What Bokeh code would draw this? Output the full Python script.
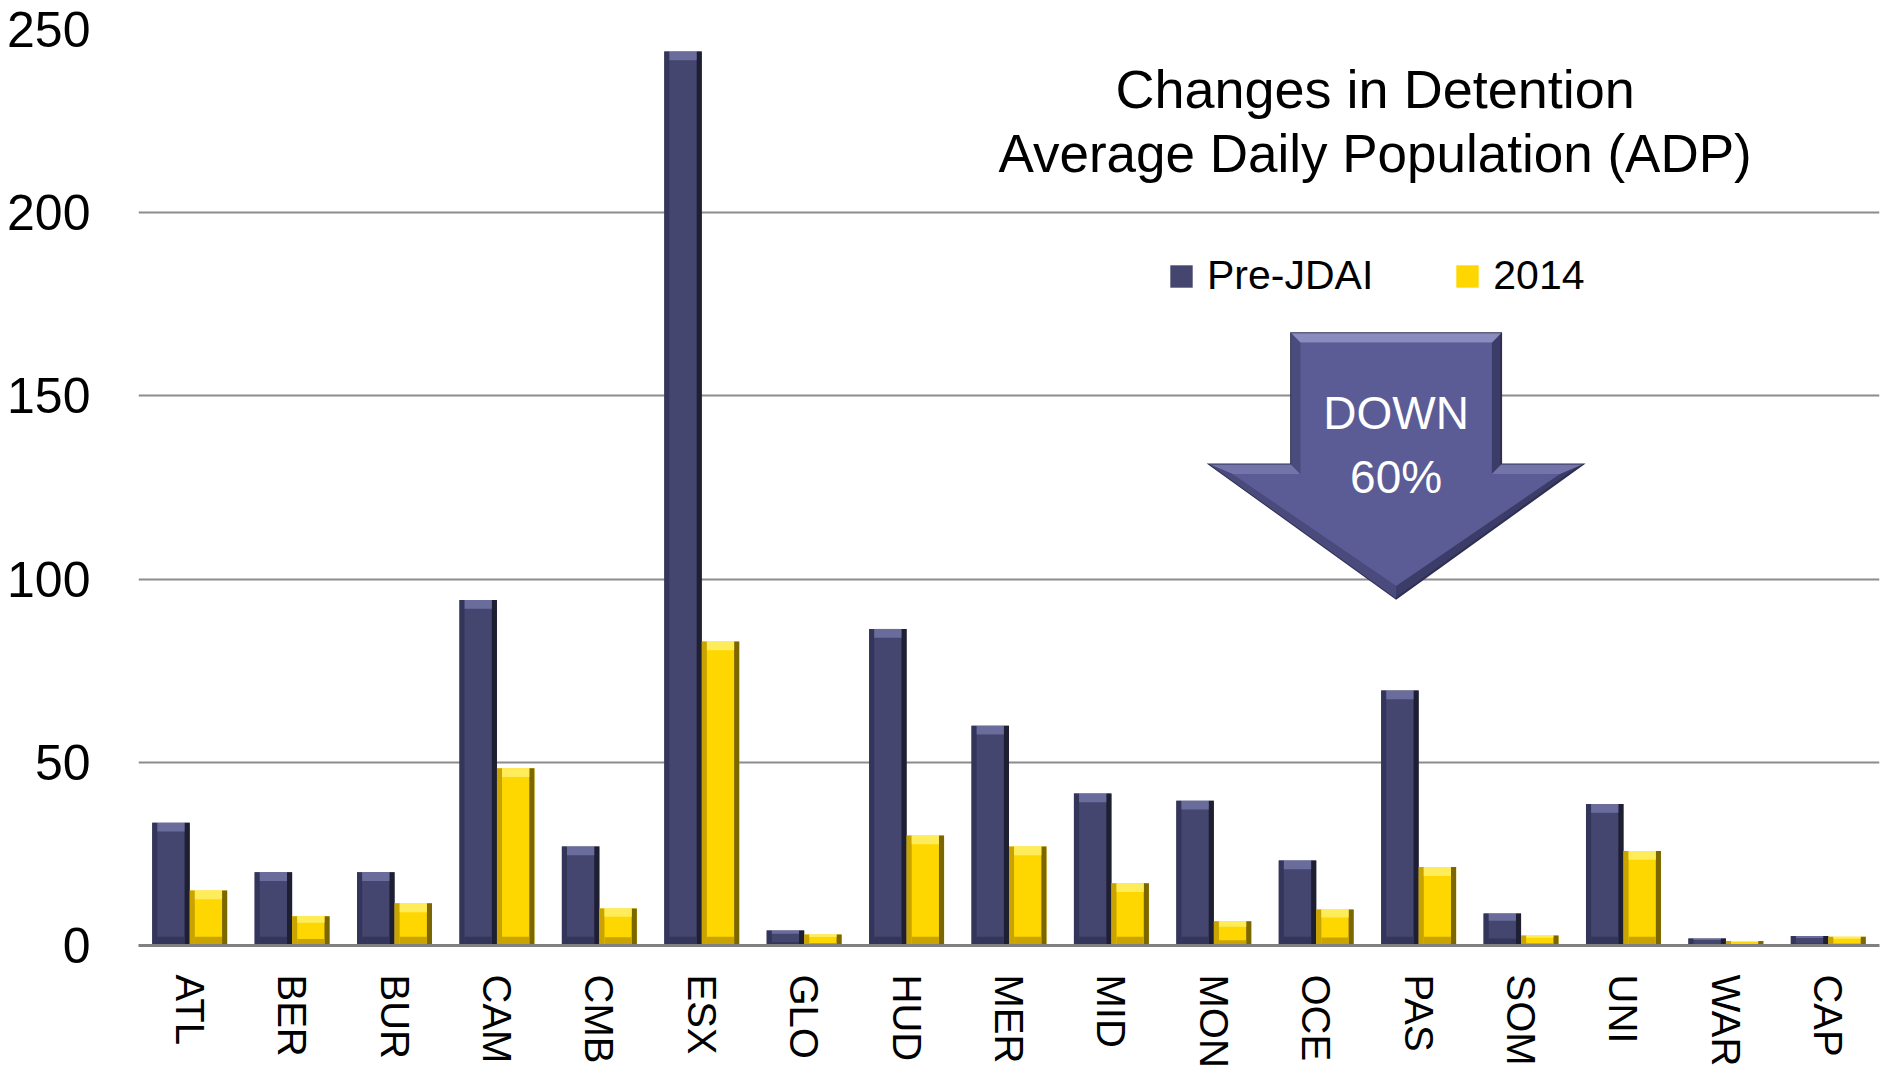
import math
from bokeh.plotting import figure
from bokeh.models import (FactorRange, Range1d, FixedTicker, ColumnDataSource,
                          Legend, LegendItem, Label)
from bokeh.transform import dodge
from bokeh.embed import file_html
from bokeh.resources import INLINE

# ---------------- data ----------------
categories = ["ATL", "BER", "BUR", "CAM", "CMB", "ESX", "GLO", "HUD", "MER",
              "MID", "MON", "OCE", "PAS", "SOM", "UNI", "WAR", "CAP"]
pre_jdai = [33.5, 20, 20, 94.3, 27, 244, 4.1, 86.4, 60, 41.5, 39.5, 23.2,
            69.6, 8.7, 38.6, 1.9, 2.6]
y2014 = [15, 8, 11.5, 48.4, 10.1, 83, 3, 30, 27, 17, 6.6, 9.8, 21.4, 2.7,
         25.8, 1.2, 2.4]
y_ticks = [0, 50, 100, 150, 200, 250]
series_names = ["Pre-JDAI", "2014"]
title_lines = ["Changes in Detention", "Average Daily Population (ADP)"]
arrow_lines = ["DOWN", "60%"]

# ---------------- styles ----------------
FONT = "Liberation Sans"
NAVY, NAVY_DARK, NAVY_MID, NAVY_LIGHT = "#45466f", "#1f1f33", "#34355a", "#6a6c9c"
GOLD, GOLD_DARK, GOLD_MID, GOLD_LIGHT = "#ffd700", "#7c6600", "#c9a300", "#ffec5a"
BAR_W = 0.366
EDGE_W = 0.05

def band(vals):
    return [min(2.4, v * 0.22) for v in vals]

src = ColumnDataSource(dict(
    cats=categories,
    pre=pre_jdai,
    y14=y2014,
    pre_top_lo=[v - b for v, b in zip(pre_jdai, band(pre_jdai))],
    y14_top_lo=[v - b for v, b in zip(y2014, band(y2014))],
    pre_bot_hi=band(pre_jdai),
    y14_bot_hi=band(y2014),
))

p = figure(x_range=FactorRange(*categories, range_padding=0),
           y_range=Range1d(0, 250),
           width=1883, height=1073,
           output_backend="svg", toolbar_location=None,
           min_border_left=138, min_border_right=4,
           min_border_top=29, min_border_bottom=128)
p.outline_line_color = None
p.background_fill_color = "white"
p.xgrid.grid_line_color = None
p.ygrid.grid_line_color = "#8c8c8c"
p.ygrid.grid_line_width = 2
p.ygrid.ticker = FixedTicker(ticks=y_ticks)

p.yaxis.ticker = FixedTicker(ticks=y_ticks)
p.yaxis.axis_line_color = None
p.yaxis.major_tick_line_color = None
p.yaxis.minor_tick_line_color = None
p.yaxis.major_label_text_font = FONT
p.yaxis.major_label_text_font_size = "50px"
p.yaxis.major_label_text_color = "black"
p.yaxis.major_label_standoff = 42

p.xaxis.axis_line_color = "#808080"
p.xaxis.axis_line_width = 3
p.xaxis.major_tick_line_color = None
p.xaxis.minor_tick_line_color = None
p.xaxis.major_label_orientation = -math.pi / 2
p.xaxis.major_label_text_font = FONT
p.xaxis.major_label_text_font_size = "40px"
p.xaxis.major_label_text_color = "black"
p.xaxis.major_label_standoff = 23

# ---------------- bars ----------------
r_pre = p.vbar(x=dodge("cats", -BAR_W / 2, range=p.x_range), top="pre", width=BAR_W,
               source=src, fill_color=NAVY, line_color=None)
r_14 = p.vbar(x=dodge("cats", BAR_W / 2, range=p.x_range), top="y14", width=BAR_W,
              source=src, fill_color=GOLD, line_color=None)

# bevel details (pre)
p.vbar(x=dodge("cats", -BAR_W + EDGE_W / 2, range=p.x_range), top="pre", width=EDGE_W,
       source=src, fill_color=NAVY_MID, line_color=None)
p.vbar(x=dodge("cats", -EDGE_W / 2, range=p.x_range), top="pre", width=EDGE_W,
       source=src, fill_color=NAVY_DARK, line_color=None)
p.vbar(x=dodge("cats", -BAR_W / 2, range=p.x_range), top="pre", bottom="pre_top_lo",
       width=BAR_W - 2 * EDGE_W, source=src, fill_color=NAVY_LIGHT, line_color=None)
p.vbar(x=dodge("cats", -BAR_W / 2, range=p.x_range), top="pre_bot_hi", bottom=0,
       width=BAR_W - 2 * EDGE_W, source=src, fill_color=NAVY_MID, line_color=None)
# bevel details (2014)
p.vbar(x=dodge("cats", EDGE_W / 2, range=p.x_range), top="y14", width=EDGE_W,
       source=src, fill_color=GOLD_MID, line_color=None)
p.vbar(x=dodge("cats", BAR_W - EDGE_W / 2, range=p.x_range), top="y14", width=EDGE_W,
       source=src, fill_color=GOLD_DARK, line_color=None)
p.vbar(x=dodge("cats", BAR_W / 2, range=p.x_range), top="y14", bottom="y14_top_lo",
       width=BAR_W - 2 * EDGE_W, source=src, fill_color=GOLD_LIGHT, line_color=None)
p.vbar(x=dodge("cats", BAR_W / 2, range=p.x_range), top="y14_bot_hi", bottom=0,
       width=BAR_W - 2 * EDGE_W, source=src, fill_color=GOLD_MID, line_color=None)

# ---------------- legend ----------------
legend = Legend(items=[LegendItem(label=series_names[0], renderers=[r_pre]),
                       LegendItem(label=series_names[1], renderers=[r_14])],
                orientation="horizontal", location=(1029, 646),
                glyph_width=28, glyph_height=28, label_standoff=12, spacing=80,
                label_text_font=FONT, label_text_font_size="41px",
                label_text_color="black",
                padding=0, margin=0, border_line_color=None,
                background_fill_alpha=0)
p.add_layout(legend)

# ---------------- title ----------------
TITLE_X = 12.075
for txt, yy, fs in zip(title_lines, [233.7, 216.2], ["54px", "53px"]):
    p.add_layout(Label(x=TITLE_X, y=yy, text=txt, text_align="center",
                       text_baseline="alphabetic", text_font=FONT,
                       text_font_size=fs, text_color="black"))

# ---------------- arrow (bevelled) ----------------
AX = 12.28
SHAFT_HW, HEAD_HW = 1.025, 1.82
SHAFT_TOP, HEAD_TOP, TIP = 167.1, 131.3, 94.7
IX, DY, HX, TY = 0.09, 2.6, 0.22, 3.4
L, R = AX - SHAFT_HW, AX + SHAFT_HW
HL, HR = AX - HEAD_HW, AX + HEAD_HW
iL, iR, iST, iHT = L + IX, R - IX, SHAFT_TOP - DY, HEAD_TOP - DY
iHL, iHR, iTip = HL + HX, HR - HX, TIP + TY

p.patch([L, R, R, HR, AX, HL, L],
        [SHAFT_TOP, SHAFT_TOP, HEAD_TOP, HEAD_TOP, TIP, HEAD_TOP, HEAD_TOP],
        fill_color="#3b3c67", line_color="#2e2f52", line_width=2, line_join="miter")
# lighter top-facing bevels
p.patch([L, R, iR, iL], [SHAFT_TOP, SHAFT_TOP, iST, iST],
        fill_color="#8a8cc0", line_color=None)
p.patch([HL, L, iL, iHL], [HEAD_TOP, HEAD_TOP, iHT, iHT],
        fill_color="#7375aa", line_color=None)
p.patch([R, HR, iHR, iR], [HEAD_TOP, HEAD_TOP, iHT, iHT],
        fill_color="#7375aa", line_color=None)
# left-facing bevels (medium)
p.patch([L, L, iL, iL], [SHAFT_TOP, HEAD_TOP, iHT, iST],
        fill_color="#4b4c7e", line_color=None)
p.patch([HL, AX, AX, iHL], [HEAD_TOP, TIP, iTip, iHT],
        fill_color="#4a4b7c", line_color=None)
# inner face
p.patch([iL, iR, iR, iHR, AX, iHL, iL],
        [iST, iST, iHT, iHT, iTip, iHT, iHT],
        fill_color="#5b5c95", line_color=None)
for txt, yy in zip(arrow_lines, [145.2, 128.0]):
    p.add_layout(Label(x=AX, y=yy, text=txt, text_align="center",
                       text_baseline="alphabetic", text_font=FONT,
                       text_font_size="46px", text_color="white"))

open("out.html", "w").write(file_html(p, INLINE))
